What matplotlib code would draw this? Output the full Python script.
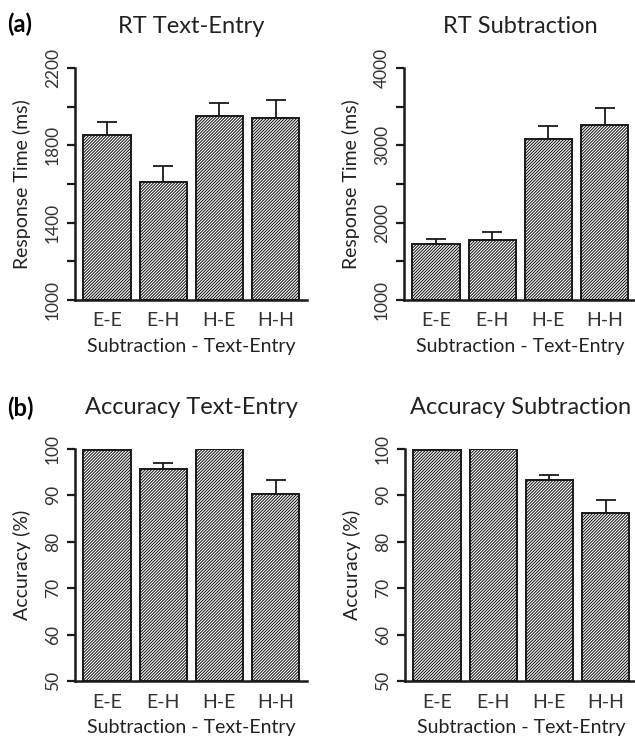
import matplotlib
matplotlib.use("Agg")
import matplotlib.pyplot as plt

plt.rcParams["font.family"] = ["Lato", "DejaVu Sans"]
plt.rcParams["hatch.linewidth"] = 0.75

conditions = ["E-E", "E-H", "H-E", "H-H"]

rt_text = [1853, 1610, 1953, 1943]
rt_text_err = [69, 83, 67, 93]

rt_sub = [1728, 1776, 3086, 3259]
rt_sub_err = [61, 99, 164, 219]

acc_text = [99.7, 95.6, 99.9, 90.3]
acc_text_err = [0.1, 1.4, 0.1, 3.0]

acc_sub = [99.8, 100.0, 93.4, 86.1]
acc_sub_err = [0.1, 0.05, 1.1, 2.9]

W, H = 635, 740
fig = plt.figure(figsize=(W / 100, H / 100), dpi=100)


def panel(rect, values, errs, title, ylabel, ylim, yticks, ylabels):
    left, top, width, height = rect
    ax = fig.add_axes([left / W, (H - top - height) / H, width / W, height / H])
    x = range(len(values))
    ax.bar(x, [v - ylim[0] for v in values], bottom=ylim[0], width=0.84,
           color="white", edgecolor="#1a1a1a", linewidth=1.4,
           hatch="/" * 11, zorder=2)
    ax.errorbar(x, values, yerr=[[0] * len(errs), errs], fmt="none",
                ecolor="#1a1a1a", elinewidth=1.3, capsize=7.5, capthick=1.3,
                zorder=1)
    ax.set_xlim(-0.57, 3.56)
    ax.set_ylim(*ylim)
    ax.set_yticks(yticks)
    ax.set_yticklabels(ylabels, rotation=90, va="center")
    ax.set_xticks(list(x))
    ax.set_xticklabels(conditions)
    for s in ["top", "right"]:
        ax.spines[s].set_visible(False)
    for s in ["left", "bottom"]:
        ax.spines[s].set_linewidth(1.8)
        ax.spines[s].set_color("#1a1a1a")
    ax.tick_params(axis="x", length=0, pad=9, labelsize=14, colors="#333333")
    ax.tick_params(axis="y", length=6, width=1.6, pad=4, labelsize=12.5,
                   colors="#333333", color="#1a1a1a")
    ax.set_title(title, fontsize=17, pad=25, color="#222222")
    ax.set_ylabel(ylabel, fontsize=14, labelpad=10, color="#222222")
    ax.set_xlabel("Subtraction - Text-Entry", fontsize=14, labelpad=6,
                  color="#222222")
    return ax


panel((75, 68, 232, 232), rt_text, rt_text_err, "RT Text-Entry",
      "Response Time (ms)", (1000, 2200), range(1000, 2201, 200),
      ["1000", "", "1400", "", "1800", "", "2200"])
panel((404, 68, 232, 232), rt_sub, rt_sub_err, "RT Subtraction",
      "Response Time (ms)", (1000, 4000), range(1000, 4001, 500),
      ["1000", "", "2000", "", "3000", "", "4000"])
panel((75, 449, 232, 232), acc_text, acc_text_err, "Accuracy Text-Entry",
      "Accuracy (%)", (50, 100), range(50, 101, 10),
      ["50", "60", "70", "80", "90", "100"])
panel((405, 449, 232, 232), acc_sub, acc_sub_err, "Accuracy Subtraction",
      "Accuracy (%)", (50, 100), range(50, 101, 10),
      ["50", "60", "70", "80", "90", "100"])

fig.text(7 / W, 1 - 24 / H, "(a)", fontsize=17, fontweight="bold", va="center")
fig.text(7 / W, 1 - 408 / H, "(b)", fontsize=17, fontweight="bold", va="center")

fig.savefig("out.png", dpi=100)
